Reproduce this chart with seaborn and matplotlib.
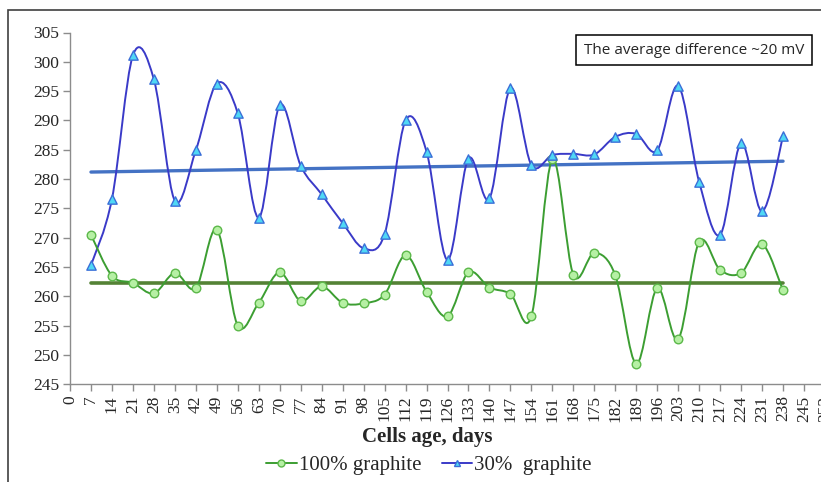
import numpy as np
import pandas as pd
import matplotlib
matplotlib.use("Agg")
import matplotlib.pyplot as plt
import seaborn as sns
from matplotlib.path import Path
from matplotlib.patches import PathPatch, Rectangle
from matplotlib.lines import Line2D

# ---- data ----
days = [7, 14, 21, 28, 35, 42, 49, 56, 63, 70, 77, 84, 91, 98, 105, 112, 119,
        126, 133, 140, 147, 154, 161, 168, 175, 182, 189, 196, 203, 210, 217,
        224, 231, 238]
graphite_100 = [270.5, 263.5, 262.3, 260.5, 264.0, 261.4, 271.4, 255.0, 258.9,
                264.1, 259.2, 261.7, 258.9, 258.8, 260.3, 267.0, 260.8, 256.6,
                264.1, 261.5, 260.4, 256.6, 283.4, 263.7, 267.4, 263.6, 248.5,
                261.4, 252.7, 269.3, 264.5, 264.0, 268.9, 261.0]
graphite_30 = [265.3, 276.6, 301.1, 297.0, 276.3, 284.9, 296.3, 291.2, 273.4,
               292.6, 282.3, 277.4, 272.5, 268.2, 270.6, 290.0, 284.7, 266.2,
               283.5, 276.7, 295.5, 282.4, 284.1, 284.3, 284.2, 287.2, 287.7,
               284.9, 295.9, 279.5, 270.5, 286.1, 274.5, 287.3]
trend_x = [7, 238]
trend_100 = [262.3, 262.3]
trend_30 = [281.2, 283.05]
x_ticks = list(range(0, 253, 7))
y_ticks = list(range(245, 306, 5))
labels = ["100% graphite", "30%  graphite"]
note = "The average difference ~20 mV"

df = pd.DataFrame({"day": days, "g100": graphite_100, "g30": graphite_30})

sns.set_style("ticks")
plt.rcParams["font.family"] = ["Liberation Serif", "DejaVu Serif"]

W, H = 821, 482
fig = plt.figure(figsize=(W / 100, H / 100), dpi=100)
x0, x1 = 70, 825
y0, y1 = 384.3, 32.5
ax = fig.add_axes([x0 / W, 1 - y0 / H, (x1 - x0) / W, (y0 - y1) / H])


def smooth_path(xs, ys):
    pts = np.column_stack([xs, ys]).astype(float)
    n = len(pts)
    verts = [pts[0]]
    codes = [Path.MOVETO]
    for i in range(n - 1):
        p0 = pts[i - 1] if i > 0 else pts[i]
        p1 = pts[i]
        p2 = pts[i + 1]
        p3 = pts[i + 2] if i + 2 < n else pts[i + 1]
        c1 = p1 + (p2 - p0) / 6.0
        c2 = p2 - (p3 - p1) / 6.0
        verts += [c1, c2, p2]
        codes += [Path.CURVE4] * 3
    return Path(verts, codes)


green_line = "#3c9e32"
blue_line = "#3a3ac8"

# trend lines
sns.lineplot(x=trend_x, y=trend_30, ax=ax, color="#4472c4", linewidth=2.4, zorder=2)
sns.lineplot(x=trend_x, y=trend_100, ax=ax, color="#548235", linewidth=2.6, zorder=2)

# smoothed series
ax.add_patch(PathPatch(smooth_path(df["day"], df["g30"]), facecolor="none",
                       edgecolor=blue_line, linewidth=1.4, zorder=3))
ax.add_patch(PathPatch(smooth_path(df["day"], df["g100"]), facecolor="none",
                       edgecolor=green_line, linewidth=1.4, zorder=3))

sns.scatterplot(data=df, x="day", y="g100", ax=ax, marker="o", s=38,
                color="#b6f0a4", edgecolor="#5cb84a", linewidth=1.0, zorder=4)
sns.scatterplot(data=df, x="day", y="g30", ax=ax, marker="^", s=45,
                color="#4fd8f5", edgecolor="#3b6fd8", linewidth=1.0, zorder=5)

ax.set_xlim(0, 252)
ax.set_ylim(245, 305)
ax.set_xticks(x_ticks)
ax.set_xticklabels([str(t) for t in x_ticks], rotation=90)
ax.set_yticks(y_ticks)
ax.tick_params(axis="both", labelsize=12.5, color="#8c8c8c", length=5,
               width=1, direction="out", pad=3)
for s in ["top", "right"]:
    ax.spines[s].set_visible(False)
for s in ["left", "bottom"]:
    ax.spines[s].set_color("#8c8c8c")
    ax.spines[s].set_linewidth(1.0)
ax.set_xlabel("")
ax.set_ylabel("")

fig.text(427 / W, 1 - 437 / H, "Cells age, days", ha="center", va="center",
         fontsize=15, fontweight="bold")

handles = [
    Line2D([0], [0], color=green_line, lw=1.4, marker="o", markersize=5,
           markerfacecolor="#b6f0a4", markeredgecolor="#5cb84a"),
    Line2D([0], [0], color=blue_line, lw=1.4, marker="^", markersize=5,
           markerfacecolor="#4fd8f5", markeredgecolor="#3b6fd8"),
]
fig.legend(handles, labels, loc="center", bbox_to_anchor=(429 / W, 1 - 465 / H),
           ncol=2, frameon=False, fontsize=15, handlelength=1.45,
           handletextpad=0.1, columnspacing=1.0, borderaxespad=0,
           borderpad=0)

fig.text(694 / W, 1 - 50 / H, note, ha="center", va="center", fontsize=11,
         family=["Open Sans", "DejaVu Sans"],
         bbox=dict(boxstyle="square,pad=0.5", facecolor="white",
                   edgecolor="black", linewidth=1.1))

fig.add_artist(Rectangle((8 / W, -0.1), 1.2, (H - 10) / H + 0.1,
                         transform=fig.transFigure, facecolor="none",
                         edgecolor="#404040", linewidth=1.2, clip_on=False))

fig.savefig("out.png", dpi=100)
